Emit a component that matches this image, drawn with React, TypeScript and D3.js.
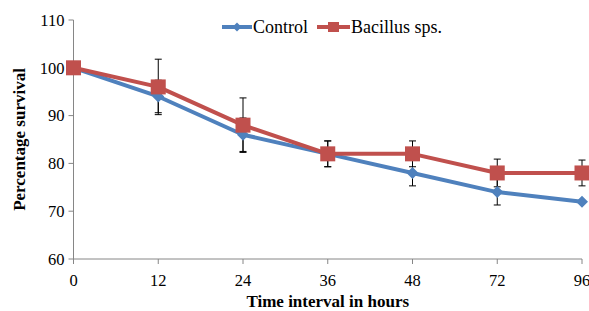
import * as d3 from 'd3';
import React from 'react';

const hours = ['0', '12', '24', '36', '48', '72', '96'];
const control = [100, 94, 86, 82, 78, 74, 72];
const controlErr = [0, 3.4, 3.5, 2.7, 2.7, 2.7, 0];
const bacillus = [100, 96, 88, 82, 82, 78, 78];
const bacillusErr = [0, 5.8, 5.7, 2.7, 2.7, 2.9, 2.7];
const yTicks = [60, 70, 80, 90, 100, 110];

const BLUE = '#4F81BD';
const RED = '#C0504D';
const AXIS = '#868686';
const FONT = '"Liberation Serif", "Times New Roman", serif';

export default function App() {
    const width = 589, height = 311
    const left = 73.5, right = 582, top = 20, bottom = 259

    const x = d3.scalePoint().domain(hours).range([left, right])
    const y = d3.scaleLinear().domain([60, 110]).range([bottom, top])

    const line = d3.line<number>()
        .x((d, i) => x(hours[i]) as number)
        .y(d => y(d))

    const errBars = (vals: number[], errs: number[], key: string) =>
        vals.map((v, i) => {
            if (!errs[i]) return null
            const cx = x(hours[i]) as number
            const y1 = y(v + errs[i]), y2 = y(v - errs[i])
            return (
                <g key={key + i} stroke="#000" strokeWidth={1}>
                    <line x1={cx} x2={cx} y1={y1} y2={y2} />
                    <line x1={cx - 3.5} x2={cx + 3.5} y1={y1} y2={y1} />
                    <line x1={cx - 3.5} x2={cx + 3.5} y1={y2} y2={y2} />
                </g>
            )
        })

    const diamond = (cx: number, cy: number, r: number) =>
        `M${cx},${cy - r}L${cx + r},${cy}L${cx},${cy + r}L${cx - r},${cy}Z`

    return (
        <svg width={width} height={height} style={{ position: 'absolute', left: 0, top: 0 }}>
            <rect width={width} height={height} fill="#fff" />

            {/* axes */}
            <line x1={left} x2={left} y1={top} y2={bottom} stroke={AXIS} strokeWidth={1} />
            <line x1={left} x2={right} y1={bottom} y2={bottom} stroke={AXIS} strokeWidth={1} />
            {yTicks.map(t => (
                <g key={'y' + t}>
                    <line x1={left - 5} x2={left} y1={y(t)} y2={y(t)} stroke={AXIS} />
                    <text x={left - 9} y={y(t)} dy="0.35em" textAnchor="end"
                        fontFamily={FONT} fontSize={16.5} fill="#000">{t}</text>
                </g>
            ))}
            {hours.map(h => (
                <g key={'x' + h}>
                    <line x1={x(h)} x2={x(h)} y1={bottom} y2={bottom + 5} stroke={AXIS} />
                    <text x={x(h)} y={bottom + 27} textAnchor="middle"
                        fontFamily={FONT} fontSize={16.5} fill="#000">{h}</text>
                </g>
            ))}

            <text x={(left + right) / 2} y={307} textAnchor="middle" fontFamily={FONT}
                fontSize={17} fontWeight="bold">Time interval in hours</text>
            <text transform={`translate(25,${(top + bottom) / 2}) rotate(-90)`} textAnchor="middle"
                fontFamily={FONT} fontSize={17} fontWeight="bold">Percentage survival</text>

            {/* series lines */}
            <path d={line(control) || ''} fill="none" stroke={BLUE} strokeWidth={4} strokeLinejoin="round" />
            <path d={line(bacillus) || ''} fill="none" stroke={RED} strokeWidth={4} strokeLinejoin="round" />

            {errBars(control, controlErr, 'c')}
            {errBars(bacillus, bacillusErr, 'b')}

            {control.map((v, i) => (
                <path key={'cd' + i} d={diamond(x(hours[i]) as number, y(v), 6)} fill={BLUE} />
            ))}
            {bacillus.map((v, i) => (
                <rect key={'bs' + i} x={(x(hours[i]) as number) - 7.5} y={y(v) - 7.5}
                    width={15} height={15} fill={RED} />
            ))}

            {/* legend */}
            <line x1={222} x2={252} y1={27} y2={27} stroke={BLUE} strokeWidth={4} />
            <path d={diamond(237, 27, 4.5)} fill={BLUE} />
            <text x={253} y={27} dy="0.35em" fontFamily={FONT} fontSize={18}>Control</text>
            <line x1={317} x2={350} y1={27} y2={27} stroke={RED} strokeWidth={4} />
            <rect x={328} y={22} width={11} height={10} fill={RED} />
            <text x={351} y={27} dy="0.35em" fontFamily={FONT} fontSize={18}>Bacillus sps.</text>
        </svg>
    )
}
